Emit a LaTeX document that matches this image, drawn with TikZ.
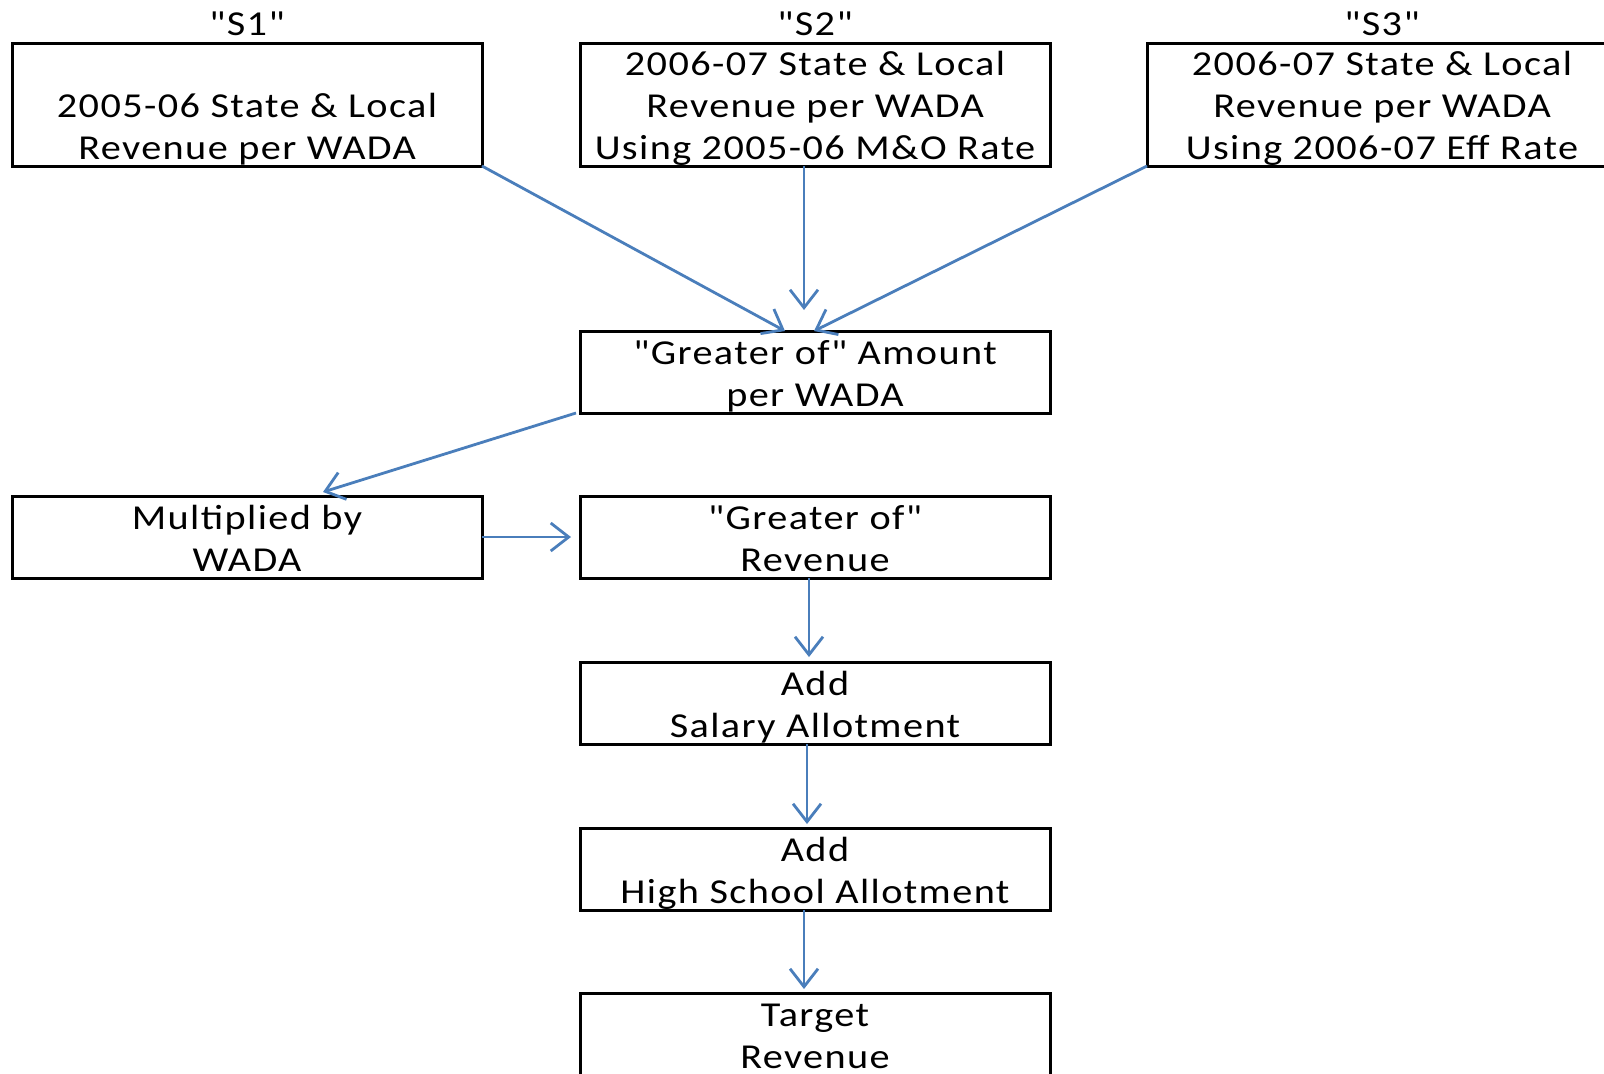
\documentclass[tikz,border=0pt]{standalone}
\usepackage{fontspec}
\setmainfont{Carlito}[FakeStretch=1.15,LetterSpace=4,Ligatures=TeXOff]
\usetikzlibrary{arrows.meta,positioning}
\definecolor{arrowblue}{RGB}{74,126,187}
\newcommand{\boxlines}[1]{\raisebox{-6.7pt}[0pt][0pt]{\begin{tabular}{@{}c@{}}#1\end{tabular}}}

\begin{document}
\begin{tikzpicture}[
    box/.style={draw, line width=1.5pt, outer sep=0pt, inner sep=0pt, minimum width=235pt, minimum height=41pt, font=\fontsize{17.5pt}{21pt}\selectfont},
    tall/.style={box, minimum height=61.5pt},
    lab/.style={inner sep=0pt, font=\fontsize{17.5pt}{21pt}\selectfont},
    arr/.style={-{Straight Barb[length=9pt,width=14pt]}, line width=1.4pt, draw=arrowblue}
  ]
    \useasboundingbox (0,0) rectangle (802pt,-536.5pt);
    \node[tall] (s1) at (123.5pt,-52.25pt) {\boxlines{\\2005-06 State \& Local\\Revenue per WADA}};
    \node[tall,right=49pt of s1] (s2) {\boxlines{2006-07 State \& Local\\Revenue per WADA\\Using 2005-06 M\&O Rate}};
    \node[tall,right=48.5pt of s2] (s3) {\boxlines{2006-07 State \& Local\\Revenue per WADA\\Using 2006-07 Eff Rate}};
    \node[lab,above=3.5pt of s1] (s1lab) {"S1"};
    \node[lab,above=3.5pt of s2] (s2lab) {"S2"};
    \node[lab,above=3.5pt of s3] (s3lab) {"S3"};
    \node[box,below=82.5pt of s2] (ga) {\boxlines{"Greater of" Amount\\per WADA}};
    \node[box,below=41.5pt of ga] (gr) {\boxlines{"Greater of"\\Revenue}};
    \node[box,left=49pt of gr] (mult) {\boxlines{Multiplied by\\WADA}};
    \node[box,below=42pt of gr] (sal) {\boxlines{Add\\Salary Allotment}};
    \node[box,below=42pt of sal] (hs) {\boxlines{Add\\High School Allotment}};
    \node[box,below=41.5pt of hs] (tgt) {\boxlines{Target\\Revenue}};
    \draw[arr] (s1.south east) -- ([xshift=-15pt]ga.north);
    \draw[arr] ([xshift=-5.5pt]s2.south) -- ([xshift=-5.5pt,yshift=10.5pt]ga.north);
    \draw[arr] (s3.south west) -- ([xshift=-0.5pt]ga.north);
    \draw[arr] ([xshift=-2pt]ga.south west) -- ([xshift=38pt,yshift=2pt]mult.north);
    \draw[arr,shorten >=4.5pt] (mult) -- (gr);
    \draw[arr,shorten >=2.5pt] ([xshift=-3pt]gr.south) -- ([xshift=-3pt]sal.north);
    \draw[arr,shorten >=2pt] ([xshift=-4pt]sal.south) -- ([xshift=-4pt]hs.north);
    \draw[arr,shorten >=2pt] ([xshift=-5.5pt]hs.south) -- ([xshift=-5.5pt]tgt.north);
\end{tikzpicture}
\end{document}
